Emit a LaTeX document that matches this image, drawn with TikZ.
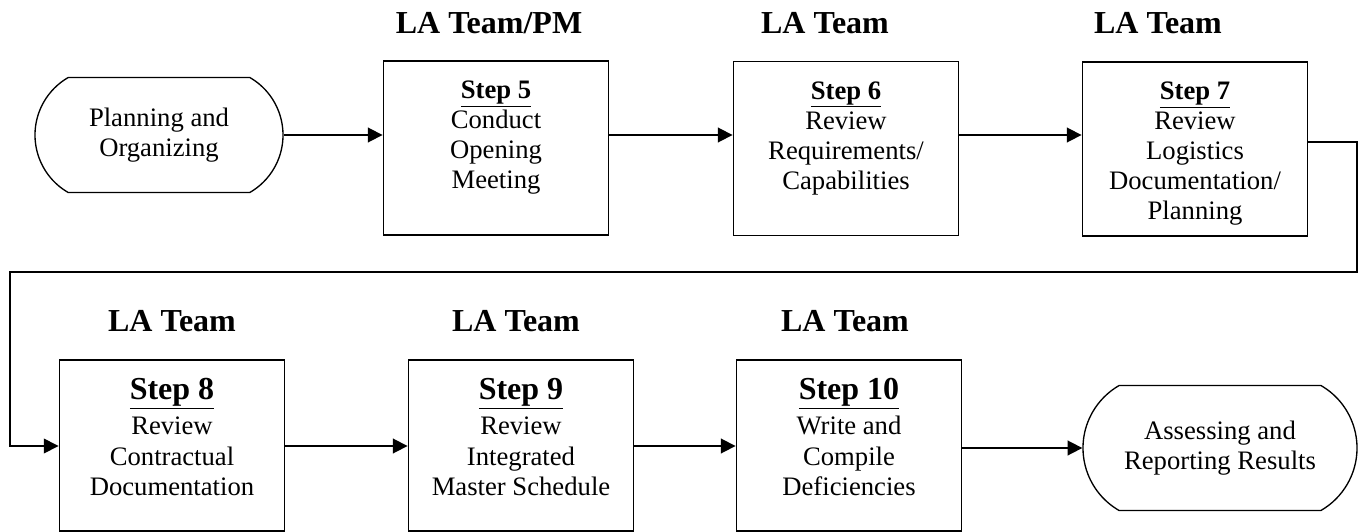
\documentclass[tikz,border=0pt]{standalone}
\usepackage{fontspec}
\setmainfont{Liberation Serif}
\usetikzlibrary{positioning,arrows.meta,shapes.misc}

\begin{document}
\begin{tikzpicture}[x=0.75pt, y=-0.75pt,
        stepbox/.style={draw, line width=1.4pt, minimum width=168.75pt, inner sep=0pt},
        term/.style={draw, line width=1pt, rounded rectangle, rounded rectangle arc length=120,
          inner sep=0pt, align=center, font=\fontsize{20}{22.5}\selectfont},
        txt/.style={inner sep=0pt, align=center, font=\fontsize{20}{22.5}\selectfont},
        big/.style={font=\fontsize{20}{23}\selectfont},
        team/.style={anchor=base, inner sep=0pt, font=\fontsize{24}{26}\selectfont\bfseries},
        flow/.style={line width=1.3pt, -{Triangle[length=11pt, width=11pt]}},
      ]
      \useasboundingbox (0,0) rectangle (1364,532);
      % row of the first three steps
      \node[term, minimum width=186pt, minimum height=86.25pt] (plan) at (159,135) {Planning and\\Organizing};
      \node[stepbox, minimum height=130.5pt] (s5) at (496,148) {};
      \node[stepbox, minimum height=130.5pt] (s6) at (846,148.5) {};
      \node[stepbox, minimum height=130.5pt] (s7) at (1195,149) {};
      \node[txt, below=15.5pt of s5.north] (t5) {\textbf{\underline{Step 5}}\\Conduct\\Opening\\Meeting};
      \node[txt, below=15.5pt of s6.north] (t6) {\textbf{\underline{Step 6}}\\Review\\Requirements/\\Capabilities};
      \node[txt, below=15.5pt of s7.north] (t7) {\textbf{\underline{Step 7}}\\Review\\Logistics\\Documentation/\\Planning};
      \node[team] (w5) at (489,33) {LA Team/PM};
      \node[team] (w6) at (825,33) {LA Team};
      \node[team] (w7) at (1158,33) {LA Team};
      % row of the last three steps
      \node[stepbox, minimum height=128.25pt] (s8) at (172,445.5) {};
      \node[stepbox, minimum height=128.25pt] (s9) at (521,445.5) {};
      \node[stepbox, minimum height=128.25pt] (s10) at (849,445.5) {};
      \node[txt, big, below=14.5pt of s8.north] (t8) {{\fontsize{24}{23}\selectfont\textbf{\underline{Step 8}}}\\[3pt]Review\\Contractual\\Documentation};
      \node[txt, big, below=14.5pt of s9.north] (t9) {{\fontsize{24}{23}\selectfont\textbf{\underline{Step 9}}}\\[3pt]Review\\Integrated\\Master Schedule};
      \node[txt, big, below=14.5pt of s10.north] (t10) {{\fontsize{24}{23}\selectfont\textbf{\underline{Step 10}}}\\[3pt]Write and\\Compile\\Deficiencies};
      \node[term, minimum width=205.5pt, minimum height=93.75pt] (assess) at (1220,448) {Assessing and\\Reporting Results};
      \node[team] (w8) at (172,331) {LA Team};
      \node[team] (w9) at (516,331) {LA Team};
      \node[team] (w10) at (845,331) {LA Team};
      % connectors
      \coordinate (row1) at (0,135);
      \coordinate (row2) at (0,446);
      \coordinate (r7) at (1357,142);
      \coordinate (ret) at (1357,272);
      \coordinate (retl) at (10,272);
      \draw[flow] (plan.east) -- (plan.east -| s5.west);
      \draw[flow] (s5.east |- row1) -- (s6.west |- row1);
      \draw[flow] (s6.east |- row1) -- (s7.west |- row1);
      \draw[flow, line width=1pt] (s7.east |- r7) -- (r7) -- (ret) -- (retl) |- (s8.west |- row2);
      \draw[flow] (s8.east |- row2) -- (s9.west |- row2);
      \draw[flow] (s9.east |- row2) -- (s10.west |- row2);
      \draw[flow] (s10.east |- assess) -- (assess.west);
    \end{tikzpicture}
\end{document}
